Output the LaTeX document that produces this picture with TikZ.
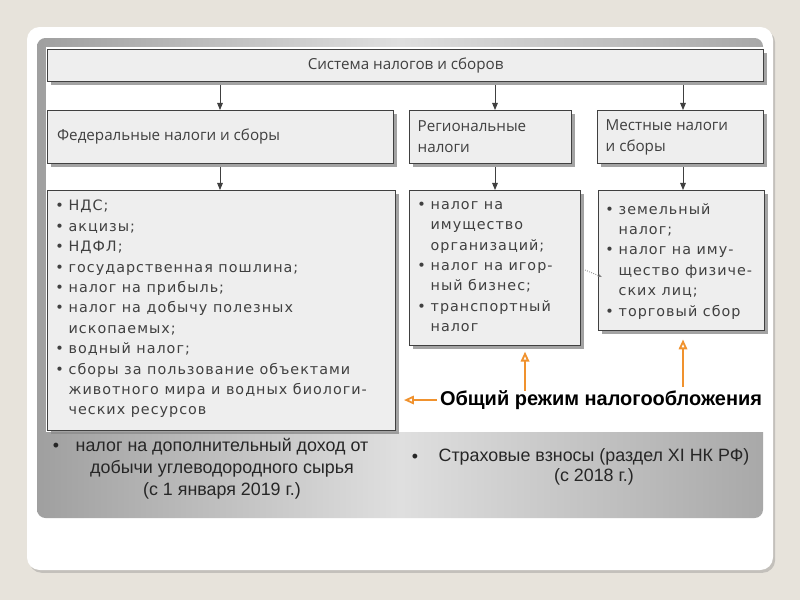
\documentclass[tikz,border=0pt]{standalone}
\usepackage{fontspec}
\setmainfont{Open Sans}
\newfontfamily\listfont[LetterSpace=7]{DejaVu Sans}
\newfontfamily\slidefont{Liberation Sans}
\usetikzlibrary{arrows.meta,shadows}

\definecolor{beige}{HTML}{E7E3DB}
\definecolor{boxfill}{HTML}{EEEEEE}
\definecolor{ink}{HTML}{404040}
\definecolor{orng}{HTML}{F0922E}

\tikzset{
  tbox/.style={draw=ink, line width=0.7pt, fill=boxfill, inner sep=0pt, anchor=north west,
    drop shadow={shadow xshift=2.2pt, shadow yshift=-2.2pt, fill=gray!90, opacity=0.8}},
  hdr/.style={anchor=west, align=left, text=ink, inner sep=0pt, font=\fontsize{10.8}{15}\selectfont},
  list/.style={anchor=north west, align=left, text=ink, inner sep=0pt, font=\listfont\fontsize{10.2}{14.5}\selectfont},
  down/.style={-{Triangle[length=5pt,width=4pt]}, ink, line width=0.6pt},
  up/.style={-{Triangle[open,length=7pt,width=6pt]}, orng, line width=1.3pt},
  note/.style={text=black!85, inner sep=0pt, align=center, font=\slidefont\fontsize{12.7}{15.6}\selectfont},
}
\newcommand{\bl}{\makebox[9.5pt][l]{\textbullet}}
\newcommand{\nb}{\hspace*{9.5pt}}

\begin{document}
\begin{tikzpicture}[x=0.025cm,y=-0.025cm]
  \useasboundingbox (0,0) rectangle (800,600);
  \fill[beige] (0,0) rectangle (800,600);
  % slide and grey panel
  \fill[white, rounded corners=9pt, drop shadow={shadow xshift=1.5pt, shadow yshift=-2pt, opacity=0.35}]
    (27,27) rectangle (773,570);
  \shade[rounded corners=6pt, left color=gray!75, right color=gray!68, middle color=gray!25]
    (37,38) rectangle (763,518);
  \fill[white] (46,47) rectangle (770,432);

  % boxes
  \node[tbox, minimum width=17.9cm, minimum height=0.8cm, text=ink,
    font=\fontsize{10.8}{12}\selectfont] (sys) at (47,49) {Система налогов и сборов};
  \node[tbox, minimum width=8.65cm, minimum height=1.325cm] (fed) at (47,110) {};
  \node[tbox, minimum width=4.05cm, minimum height=1.325cm] (reg) at (409,110) {};
  \node[tbox, minimum width=4.15cm, minimum height=1.325cm] (loc) at (597,110) {};
  \node[hdr] (fedt) at ([xshift=7pt]fed.west) {Федеральные налоги и сборы};
  \node[hdr] (regt) at ([xshift=6pt]reg.west) {Региональные\\налоги};
  \node[hdr] (loct) at ([xshift=6pt]loc.west) {Местные налоги\\и сборы};

  \node[tbox, minimum width=8.7cm, minimum height=6cm] (fedl) at (47,190) {};
  \node[tbox, minimum width=4.275cm, minimum height=3.875cm] (regl) at (409,190) {};
  \node[tbox, minimum width=4.15cm, minimum height=3.5cm] (locl) at (598,190) {};

  \node[list] (fedi) at (55,200) {\bl НДС;\\ \bl акцизы;\\ \bl НДФЛ;\\
    \bl государственная пошлина;\\ \bl налог на прибыль;\\
    \bl налог на добычу полезных\\ \nb ископаемых;\\ \bl водный налог;\\
    \bl сборы за пользование объектами\\ \nb животного мира и водных биологи-\\
    \nb ческих ресурсов};
  \node[list] (regi) at (417,201) {\bl налог на\\ \nb имущество\\ \nb организаций;\\
    \bl налог на игор-\\ \nb ный бизнес;\\ \bl транспортный\\ \nb налог};
  \node[list] (loci) at (605,203) {\bl земельный\\ \nb налог;\\ \bl налог на иму-\\
    \nb щество физиче-\\ \nb ских лиц;\\ \bl торговый сбор};

  % arrows
  \coordinate (c1) at (220,0);
  \coordinate (c2) at (495,0);
  \coordinate (c3) at (683,0);
  \draw[down] ([yshift=-2pt]sys.south -| c1) -- (fed.north -| c1);
  \draw[down] ([yshift=-2pt]sys.south -| c2) -- (reg.north -| c2);
  \draw[down] ([yshift=-2pt]sys.south -| c3) -- (loc.north -| c3);
  \draw[down] ([yshift=-2pt]fed.south -| c1) -- (fedl.north -| c1);
  \draw[down] ([yshift=-2pt]reg.south -| c2) -- (regl.north -| c2);
  \draw[down] ([yshift=-2pt]loc.south -| c3) -- (locl.north -| c3);
  \coordinate (s1) at (585,270);
  \coordinate (s2) at (602,277);
  \draw[densely dotted, gray, line width=0.6pt, -{Stealth[length=3pt]}] (s1) -- (s2);

  % general regime
  \node[font=\slidefont\bfseries\fontsize{14.2}{16}\selectfont, text=black, inner sep=0pt]
    (gen) at (601,400) {Общий режим налогообложения};
  \coordinate (p1) at (404,400);
  \coordinate (u1) at (525,391);
  \coordinate (u2) at (683,387);
  \draw[up] ([xshift=-2pt]gen.west) -- (p1);
  \draw[up] (u1) -- ([yshift=-4pt]u1 |- regl.south);
  \draw[up] (u2) -- ([yshift=-6pt]u2 |- locl.south);

  % notes in the grey band
  \node[note] (b1) at (56,447) {\textbullet};
  \node[note] (n1) at (222,469) {налог на дополнительный доход от\\
    добычи углеводородного сырья\\ (с 1 января 2019 г.)};
  \node[note] (b2) at (415,458) {\textbullet};
  \node[note, font=\slidefont\fontsize{12.7}{14}\selectfont] (n2) at (594,467)
    {Страховые взносы (раздел XI НК РФ)\\ (с 2018 г.)};
\end{tikzpicture}
\end{document}
